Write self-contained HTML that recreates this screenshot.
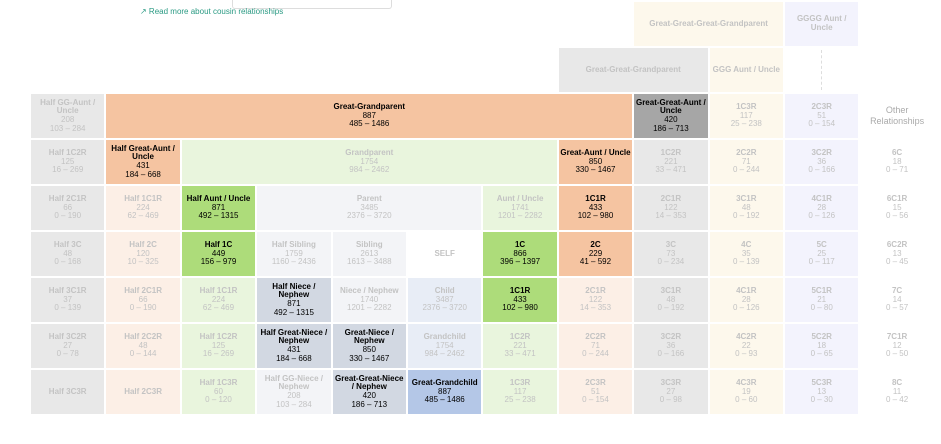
<!DOCTYPE html>
<html><head><meta charset="utf-8"><style>
body{margin:0;width:941px;height:444px;background:#fff;font-family:"Liberation Sans",Arial,sans-serif;position:relative;overflow:hidden}
.c{position:absolute;display:flex;flex-direction:column;align-items:center;justify-content:center;text-align:center;font-size:8px;line-height:8.6px;color:#c3c3c3}
.c b{font-weight:bold}
.on{color:#000}
.on b{color:#000}
.dash{position:absolute;left:821px;top:50px;height:40px;border-left:1px dashed #ddd}
</style></head><body>
<div style="position:absolute;left:232px;top:-1px;width:158px;height:9px;border:1px solid #ddd;border-top:none;border-radius:0 0 3px 3px"></div>
<div style="position:absolute;left:140px;top:7px;font-size:8px;color:#2a9a83">&#x2197;&#xFE0E; Read more about cousin relationships</div>
<div class="dash"></div>
<div id="grid"></div>
<script>
const colBg=['#e8e8e8','#fcefe6','#e9f5dd','#f3f4f7','#f3f4f7','#fff','#e9f5dd','#fcefe6','#e8e8e8','#fdf8ec','#f3f3fd','#fff'];
// [row,col,span,label,count,range,bg(optional),bold]
const cells=[
[0,8,2,'Great-Great-Great-Grandparent','','','#fdf8ec',0],
[0,10,1,'GGGG Aunt / Uncle','','','#f3f3fd',0],
[1,7,2,'Great-Great-Grandparent','','','#e8e8e8',0],
[1,9,1,'GGG Aunt / Uncle','','','#fdf8ec',0],
[2,0,1,'Half GG-Aunt / Uncle','208','103 – 284','',0],
[2,1,7,'Great-Grandparent','887','485 – 1486','#f5c4a1',1],
[2,8,1,'Great-Great-Aunt / Uncle','420','186 – 713','#a6a6a6',1],
[2,9,1,'1C3R','117','25 – 238','',0],
[2,10,1,'2C3R','51','0 – 154','',0],
[2,11,1,'Other Relationships','','','',0],
[3,0,1,'Half 1C2R','125','16 – 269','',0],
[3,1,1,'Half Great-Aunt / Uncle','431','184 – 668','#f5c4a1',1],
[3,2,5,'Grandparent','1754','984 – 2462','#e9f5dd',0],
[3,7,1,'Great-Aunt / Uncle','850','330 – 1467','#f5c4a1',1],
[3,8,1,'1C2R','221','33 – 471','',0],
[3,9,1,'2C2R','71','0 – 244','',0],
[3,10,1,'3C2R','36','0 – 166','',0],
[3,11,1,'6C','18','0 – 71','',0],
[4,0,1,'Half 2C1R','66','0 – 190','',0],
[4,1,1,'Half 1C1R','224','62 – 469','',0],
[4,2,1,'Half Aunt / Uncle','871','492 – 1315','#addc7a',1],
[4,3,3,'Parent','3485','2376 – 3720','#f3f4f7',0],
[4,6,1,'Aunt / Uncle','1741','1201 – 2282','#e9f5dd',0],
[4,7,1,'1C1R','433','102 – 980','#f5c4a1',1],
[4,8,1,'2C1R','122','14 – 353','',0],
[4,9,1,'3C1R','48','0 – 192','',0],
[4,10,1,'4C1R','28','0 – 126','',0],
[4,11,1,'6C1R','15','0 – 56','',0],
[5,0,1,'Half 3C','48','0 – 168','',0],
[5,1,1,'Half 2C','120','10 – 325','',0],
[5,2,1,'Half 1C','449','156 – 979','#addc7a',1],
[5,3,1,'Half Sibling','1759','1160 – 2436','#f3f4f7',0],
[5,4,1,'Sibling','2613','1613 – 3488','#f3f4f7',0],
[5,5,1,'SELF','','','#fff',0],
[5,6,1,'1C','866','396 – 1397','#addc7a',1],
[5,7,1,'2C','229','41 – 592','#f5c4a1',1],
[5,8,1,'3C','73','0 – 234','',0],
[5,9,1,'4C','35','0 – 139','',0],
[5,10,1,'5C','25','0 – 117','',0],
[5,11,1,'6C2R','13','0 – 45','',0],
[6,0,1,'Half 3C1R','37','0 – 139','',0],
[6,1,1,'Half 2C1R','66','0 – 190','',0],
[6,2,1,'Half 1C1R','224','62 – 469','',0],
[6,3,1,'Half Niece / Nephew','871','492 – 1315','#d2d8e2',1],
[6,4,1,'Niece / Nephew','1740','1201 – 2282','#f3f4f7',0],
[6,5,1,'Child','3487','2376 – 3720','#e8edf6',0],
[6,6,1,'1C1R','433','102 – 980','#addc7a',1],
[6,7,1,'2C1R','122','14 – 353','',0],
[6,8,1,'3C1R','48','0 – 192','',0],
[6,9,1,'4C1R','28','0 – 126','',0],
[6,10,1,'5C1R','21','0 – 80','',0],
[6,11,1,'7C','14','0 – 57','',0],
[7,0,1,'Half 3C2R','27','0 – 78','',0],
[7,1,1,'Half 2C2R','48','0 – 144','',0],
[7,2,1,'Half 1C2R','125','16 – 269','',0],
[7,3,1,'Half Great-Niece / Nephew','431','184 – 668','#d2d8e2',1],
[7,4,1,'Great-Niece / Nephew','850','330 – 1467','#d2d8e2',1],
[7,5,1,'Grandchild','1754','984 – 2462','#e8edf6',0],
[7,6,1,'1C2R','221','33 – 471','',0],
[7,7,1,'2C2R','71','0 – 244','',0],
[7,8,1,'3C2R','36','0 – 166','',0],
[7,9,1,'4C2R','22','0 – 93','',0],
[7,10,1,'5C2R','18','0 – 65','',0],
[7,11,1,'7C1R','12','0 – 50','',0],
[8,0,1,'Half 3C3R','','','',0],
[8,1,1,'Half 2C3R','','','',0],
[8,2,1,'Half 1C3R','60','0 – 120','',0],
[8,3,1,'Half GG-Niece / Nephew','208','103 – 284','#f3f4f7',0],
[8,4,1,'Great-Great-Niece / Nephew','420','186 – 713','#d2d8e2',1],
[8,5,1,'Great-Grandchild','887','485 – 1486','#b4c7e7',1],
[8,6,1,'1C3R','117','25 – 238','',0],
[8,7,1,'2C3R','51','0 – 154','',0],
[8,8,1,'3C3R','27','0 – 98','',0],
[8,9,1,'4C3R','19','0 – 60','',0],
[8,10,1,'5C3R','13','0 – 30','',0],
[8,11,1,'8C','11','0 – 42','',0]
];
const X0=30,CW=75.4,Y0=2,RH=46;
function xs(c){return X0+c*CW;}
function ys(r){return Y0+r*RH;}
const g=document.getElementById('grid');
cells.forEach(function(d){
  const el=document.createElement('div');
  
  
  el.className='c'+(d[7]?' on':'');
  el.style.left=(xs(d[1])+1)+'px';
  el.style.top=ys(d[0])+'px';
  el.style.width=(d[2]*CW-2)+'px';
  el.style.height=(RH-2)+'px';
  el.style.background=d[6]||colBg[d[1]];
  if(d[3]==='Other Relationships'){el.style.fontSize='9px';el.style.lineHeight='11px';el.style.color='#aaa';}
  let h='<b>'+d[3]+'</b>';
  if(d[4])h+='<div>'+d[4]+'</div>';
  if(d[5])h+='<div>'+d[5]+'</div>';
  if(d[3]==='Other Relationships')h='<div>Other<br>Relationships</div>';
  el.innerHTML=h;
  const inner=el.querySelector('b');
  if(inner&&d[2]===1)inner.style.maxWidth='72px';
  g.appendChild(el);
});
</script>
</body></html>
